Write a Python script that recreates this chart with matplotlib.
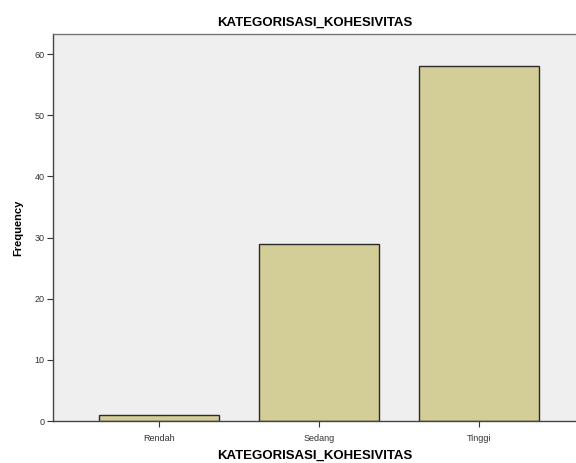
import matplotlib
matplotlib.use("Agg")
import matplotlib.pyplot as plt

categories = ['Rendah', 'Sedang', 'Tinggi']
frequency = [1, 29, 58]
y_ticks = [0, 10, 20, 30, 40, 50, 60]

plt.rcParams['font.family'] = ['Liberation Sans', 'DejaVu Sans']

fig = plt.figure(figsize=(5.76, 4.63), dpi=100)
ax = fig.add_axes([0.092, 0.0907, 0.908, 0.836])
ax.set_facecolor('#efefef')

x = list(range(len(categories)))
ax.bar(x, frequency, width=0.75, color='#d3cd97', edgecolor='#2b2b2b', linewidth=1.0)

ax.set_xlim(-0.6625, 2.606)
ax.set_ylim(0, 63.3)
ax.set_yticks(y_ticks)
ax.set_xticks(x)
ax.set_xticklabels(categories)

ax.tick_params(axis='both', labelsize=6.5, colors='#333333', length=4, width=0.8, pad=2)
ax.tick_params(axis='x', pad=5)
ax.spines['right'].set_visible(False)
for s in ['left', 'bottom', 'top']:
    ax.spines[s].set_color('#444444')
    ax.spines[s].set_linewidth(1.0)
ax.spines['top'].set_color('#777777')

ax.set_title('KATEGORISASI_KOHESIVITAS', fontsize=9.5, fontweight='bold', pad=6)
ax.set_xlabel('KATEGORISASI_KOHESIVITAS', fontsize=9.5, fontweight='bold', labelpad=5)
ax.set_ylabel('Frequency', fontsize=8, fontweight='bold', labelpad=8)

fig.savefig('out.png', dpi=100)
